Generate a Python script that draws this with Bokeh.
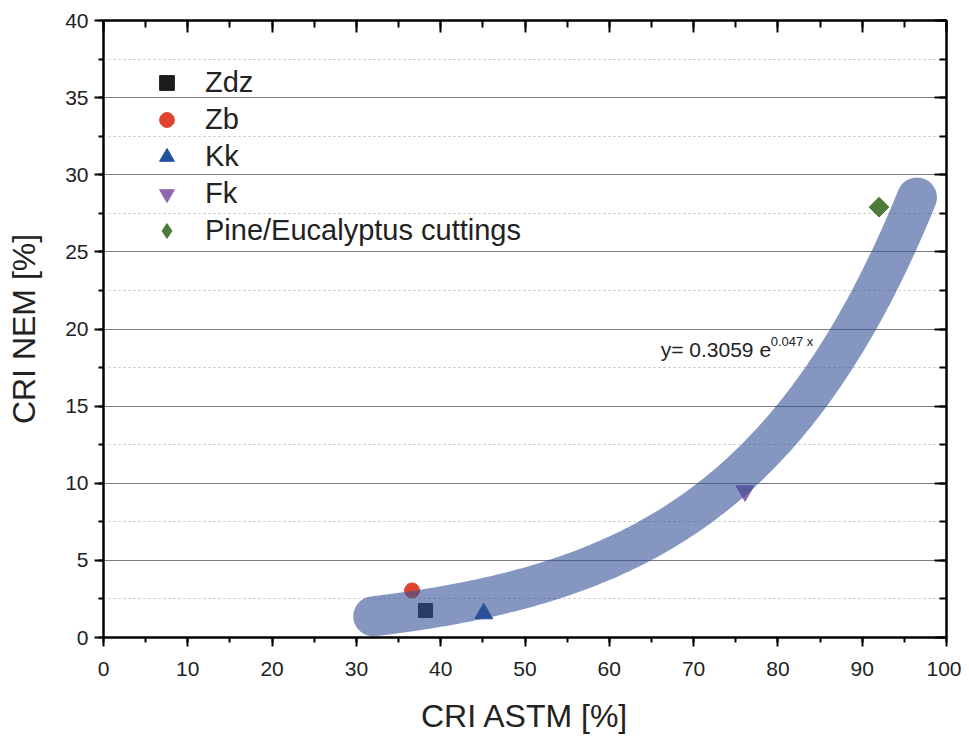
import numpy as np
from bokeh.plotting import figure
from bokeh.models import (LinearAxis, Legend, LegendItem, Label, SingleIntervalTicker,
                          Range1d)
from bokeh.embed import file_html
from bokeh.resources import INLINE

# data
names = ["Zdz", "Zb", "Kk", "Fk", "Pine/Eucalyptus cuttings"]
cri_astm = [38.2, 36.6, 45.1, 76.1, 92.0]
cri_nem = [1.75, 3.05, 1.55, 9.5, 27.9]
markers = ["square", "circle", "triangle", "inverted_triangle", "square"]
legend_markers = ["square", "circle", "triangle", "inverted_triangle", "diamond"]
angles = [0, 0, 0, 0, np.pi / 4]
colors = ["#1c1c1e", "#e0432f", "#1f4f9e", "#8c67ab", "#4e7a3c"]
sizes = [14, 15, 18, 18, 14]
fit_a, fit_b = 0.3059, 0.047
fit_x_min, fit_x_max = 32.0, 96.5

FONT = "Liberation Sans"

p = figure(width=961, height=736, output_backend="svg", toolbar_location=None,
           x_range=Range1d(0, 100), y_range=Range1d(0, 40),
           min_border_left=103, min_border_right=15, min_border_top=20, min_border_bottom=99,
           x_axis_label="CRI ASTM [%]", y_axis_label="CRI NEM [%]")
p.outline_line_color = "black"
p.outline_line_width = 2
p.background_fill_color = "white"
p.border_fill_color = "white"

# axes
for ax, step in ((p.xaxis[0], 10), (p.yaxis[0], 5)):
    ax.ticker = SingleIntervalTicker(interval=step, num_minor_ticks=2)
    ax.axis_line_width = 2
    ax.major_tick_line_width = 2
    ax.minor_tick_line_width = 2
    ax.major_tick_out = 9
    ax.major_tick_in = 0
    ax.minor_tick_out = 5
    ax.minor_tick_in = 0
    ax.major_label_text_font = FONT
    ax.major_label_text_font_size = "21px"
    ax.major_label_text_color = "#222222"
    ax.axis_label_text_font = FONT
    ax.axis_label_text_font_size = "32px"
    ax.axis_label_text_font_style = "normal"
    ax.axis_label_text_color = "#222222"
p.xaxis[0].major_label_standoff = 15
p.yaxis[0].major_label_standoff = 6
p.xaxis[0].axis_label_standoff = 19
p.yaxis[0].axis_label_standoff = 20

top = LinearAxis(ticker=SingleIntervalTicker(interval=10, num_minor_ticks=2))
right = LinearAxis(ticker=SingleIntervalTicker(interval=5, num_minor_ticks=2))
for ax in (top, right):
    ax.major_label_text_font_size = "0px"
    ax.major_label_text_alpha = 0
    ax.axis_line_width = 2
    ax.major_tick_line_width = 2
    ax.minor_tick_line_width = 2
    ax.major_tick_out = 0
    ax.major_tick_in = 12
    ax.minor_tick_out = 0
    ax.minor_tick_in = 7
p.add_layout(top, "above")
p.add_layout(right, "right")

# grid
p.xgrid.visible = False
p.ygrid.ticker = SingleIntervalTicker(interval=5, num_minor_ticks=2)
p.ygrid.grid_line_color = "#7a7a7a"
p.ygrid.grid_line_width = 1
p.ygrid.minor_grid_line_color = "#bcbcbc"
p.ygrid.minor_grid_line_dash = "2 3"
p.ygrid.minor_grid_line_width = 1

# points
items = []
for n, x, y, m, lm, a, c, s in zip(names, cri_astm, cri_nem, markers, legend_markers,
                                   angles, colors, sizes):
    r = p.scatter([x], [y], marker=m, angle=a, size=s, fill_color=c, line_color=c)
    if lm != m:
        # legend-only proxy with the marker shape shown in the key
        r = p.scatter([x], [y], marker=lm, size=s, fill_color=c, line_color=c, visible=False)
    items.append(LegendItem(label=n, renderers=[r]))

# fit curve
fx = np.linspace(fit_x_min, fit_x_max, 200)
fy = fit_a * np.exp(fit_b * fx)
p.line(fx, fy, line_width=40, line_color="#345296", line_alpha=0.6, line_cap="round",
       line_join="round")

legend = Legend(items=items, location=(45, 388), padding=0, margin=0, spacing=0,
                glyph_width=37, glyph_height=37, label_height=30, label_standoff=20,
                label_text_font=FONT, label_text_font_size="29px",
                label_text_color="#222222", inactive_fill_alpha=0,
                border_line_alpha=0, background_fill_alpha=0)
p.add_layout(legend, "center")

eq = Label(x=66.1, y=17.9, text="y= %.4f e" % fit_a, text_font=FONT,
           text_font_size="21px", text_color="#222222")
sup = Label(x=66.1, y=17.9, x_offset=110, y_offset=12, text="%.3f x" % fit_b, text_font=FONT,
            text_font_size="13px", text_color="#222222")
p.add_layout(eq)
p.add_layout(sup)

open("out.html", "w").write(file_html(p, INLINE))
